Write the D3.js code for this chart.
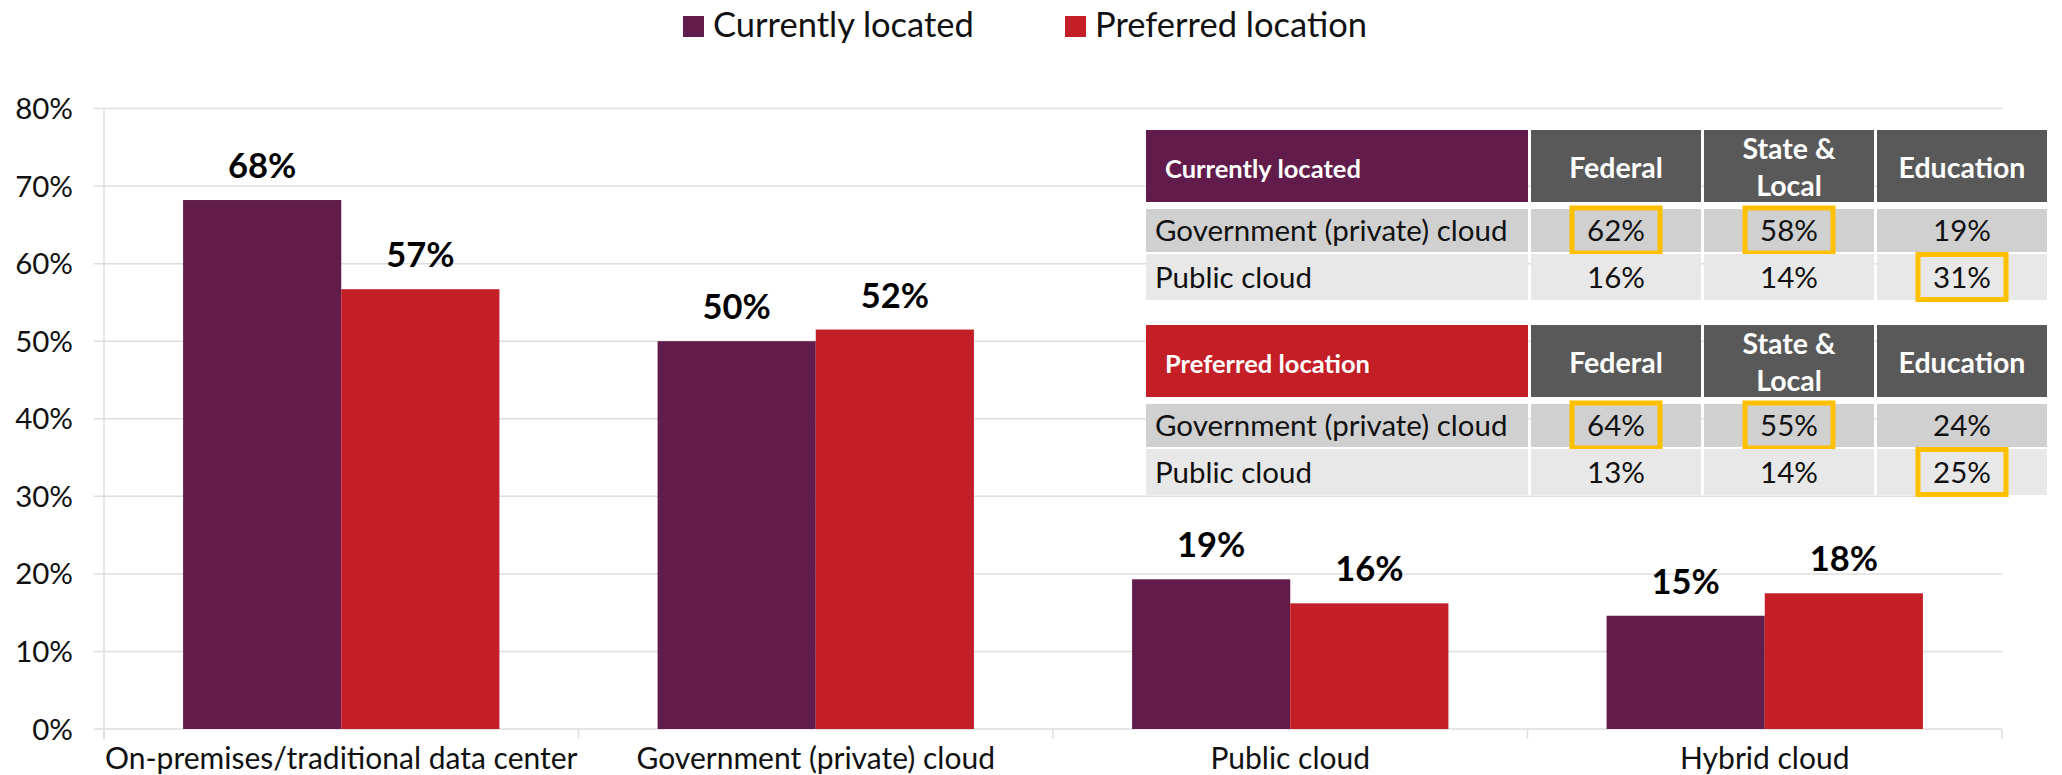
<!DOCTYPE html>
<html>
<head>
<meta charset="utf-8">
<script src="https://cdn.jsdelivr.net/npm/d3@7"></script>
<style>
  html, body { margin: 0; padding: 0; background: #ffffff; }
  svg { display: block; font-family: Lato, "Open Sans", sans-serif; }
</style>
</head>
<body>
<svg id="chart" width="2062" height="775"></svg>
<script>
// ---------- data ----------
const categories = ["On-premises/traditional data center", "Government (private) cloud", "Public cloud", "Hybrid cloud"];
const seriesNames = ["Currently located", "Preferred location"];
const currentlyLocated = [0.682, 0.500, 0.193, 0.146];
const preferredLocation = [0.567, 0.515, 0.162, 0.175];
const yTicks = [0, 0.1, 0.2, 0.3, 0.4, 0.5, 0.6, 0.7, 0.8];

const tableColumns = ["Federal", "State & Local", "Education"];
const tableRows = ["Government (private) cloud", "Public cloud"];
const currentTable = [[0.62, 0.58, 0.19], [0.16, 0.14, 0.31]];
const preferredTable = [[0.64, 0.55, 0.24], [0.13, 0.14, 0.25]];
const currentHighlight = [[true, true, false], [false, false, true]];
const preferredHighlight = [[true, true, false], [false, false, true]];

// ---------- styles ----------
const colors = ["#611c4b", "#c41e27"];
const gridColor = "#dedede";
const headerGray = "#595959";
const row1Fill = "#d0d0d0";
const row2Fill = "#e8e8e8";
const highlightColor = "#ffc000";
const pct = d3.format(".0%");

const svg = d3.select("#chart");

// ---------- scales ----------
const plot = { left: 104, right: 2002, top: 108.5, bottom: 729 };
const y = d3.scaleLinear().domain([0, 0.8]).range([plot.bottom, plot.top]);
const x0 = d3.scaleBand().domain(categories).range([plot.left, plot.right]).paddingInner(0).paddingOuter(0);
const bw = x0.bandwidth();
const x1 = d3.scaleBand().domain(seriesNames).range([bw / 6, bw * 5 / 6]).padding(0);

// gridlines
svg.append("g").selectAll("line").data(yTicks).join("line")
  .attr("x1", plot.left - 10).attr("x2", plot.right)
  .attr("y1", d => y(d)).attr("y2", d => y(d))
  .attr("stroke", gridColor).attr("stroke-width", 1.5);

// y axis line
svg.append("line").attr("x1", plot.left).attr("x2", plot.left)
  .attr("y1", plot.top).attr("y2", plot.bottom + 10)
  .attr("stroke", gridColor).attr("stroke-width", 1.5);

// y labels
svg.append("g").selectAll("text").data(yTicks).join("text")
  .attr("x", 73).attr("y", d => y(d)).attr("dy", "0.36em")
  .attr("text-anchor", "end").attr("font-size", 29.5).attr("fill", "#111")
  .text(d => pct(d));

// x tick marks at band boundaries
const boundaries = categories.map(c => x0(c)).concat([plot.right]);
svg.append("g").selectAll("line").data(boundaries).join("line")
  .attr("x1", d => d).attr("x2", d => d)
  .attr("y1", plot.bottom).attr("y2", plot.bottom + 10)
  .attr("stroke", gridColor).attr("stroke-width", 1.5);

// bars
const groups = svg.append("g").selectAll("g").data(categories).join("g")
  .attr("transform", c => `translate(${x0(c)},0)`);
const barData = (c, i) => [
  { s: seriesNames[0], v: currentlyLocated[i], k: 0 },
  { s: seriesNames[1], v: preferredLocation[i], k: 1 }
];
groups.each(function (c, i) {
  const g = d3.select(this);
  const bd = barData(c, i);
  g.selectAll("rect").data(bd).join("rect")
    .attr("x", d => x1(d.s)).attr("width", x1.bandwidth())
    .attr("y", d => y(d.v)).attr("height", d => y(0) - y(d.v))
    .attr("fill", d => colors[d.k]);
  g.selectAll("text").data(bd).join("text")
    .attr("x", d => x1(d.s) + x1.bandwidth() / 2)
    .attr("y", d => y(d.v) - 22)
    .attr("text-anchor", "middle").attr("font-size", 34.5).attr("font-weight", "bold")
    .attr("fill", "#000").text(d => pct(d.v));
});

// x labels
svg.append("g").selectAll("text").data(categories).join("text")
  .attr("x", c => x0(c) + bw / 2).attr("y", 769)
  .attr("text-anchor", "middle").attr("font-size", 30).attr("fill", "#111")
  .text(c => c);

// legend
const legend = svg.append("g");
const legendX = [683, 1065];
seriesNames.forEach((s, i) => {
  legend.append("rect").attr("x", legendX[i]).attr("y", 16).attr("width", 21).attr("height", 21).attr("fill", colors[i]);
  legend.append("text").attr("x", legendX[i] + 30).attr("y", 37).attr("font-size", 34.5).attr("fill", "#111").text(s);
});

// ---------- tables ----------
const colEdges = [[1146, 1528], [1531, 1701], [1704, 1874], [1877, 2047]];
function drawTable(top, title, titleColor, values, highlight) {
  const g = svg.append("g");
  const headerH = 72, rowTops = [top + 79, top + 124], rowH = [43, 46];
  // header
  colEdges.forEach((e, j) => {
    g.append("rect").attr("x", e[0]).attr("y", top).attr("width", e[1] - e[0]).attr("height", headerH)
      .attr("fill", j === 0 ? titleColor : headerGray);
  });
  g.append("text").attr("x", colEdges[0][0] + 19).attr("y", top + 48)
    .attr("font-size", 25.5).attr("font-weight", "bold").attr("fill", "#fff").text(title);
  tableColumns.forEach((c, j) => {
    const cx = (colEdges[j + 1][0] + colEdges[j + 1][1]) / 2;
    const parts = c === "State & Local" ? ["State &", "Local"] : [c];
    const t = g.append("text").attr("text-anchor", "middle").attr("font-size", 28.5)
      .attr("font-weight", "bold").attr("fill", "#fff");
    if (parts.length === 1) {
      t.attr("x", cx).attr("y", top + 48).text(parts[0]);
    } else {
      t.append("tspan").attr("x", cx).attr("y", top + 29).text(parts[0]);
      t.append("tspan").attr("x", cx).attr("y", top + 66).text(parts[1]);
    }
  });
  // rows
  tableRows.forEach((r, i) => {
    const fill = i === 0 ? row1Fill : row2Fill;
    colEdges.forEach((e, j) => {
      g.append("rect").attr("x", e[0]).attr("y", rowTops[i]).attr("width", e[1] - e[0]).attr("height", rowH[i])
        .attr("fill", fill);
    });
    const cy = rowTops[i] + rowH[i] / 2;
    g.append("text").attr("x", colEdges[0][0] + 9).attr("y", cy).attr("dy", "0.36em")
      .attr("font-size", 29.5).attr("fill", "#111").text(r);
    values[i].forEach((v, j) => {
      const cx = (colEdges[j + 1][0] + colEdges[j + 1][1]) / 2;
      g.append("text").attr("x", cx).attr("y", cy).attr("dy", "0.36em").attr("text-anchor", "middle")
        .attr("font-size", 29.5).attr("fill", "#111").text(pct(v));
      if (highlight[i][j]) {
        g.append("rect").attr("x", cx - 44).attr("y", cy - 22.5).attr("width", 88).attr("height", 45)
          .attr("fill", "none").attr("stroke", highlightColor).attr("stroke-width", 5);
      }
    });
  });
}
drawTable(130, seriesNames[0], colors[0], currentTable, currentHighlight);
drawTable(325, seriesNames[1], colors[1], preferredTable, preferredHighlight);
</script>
</body>
</html>
